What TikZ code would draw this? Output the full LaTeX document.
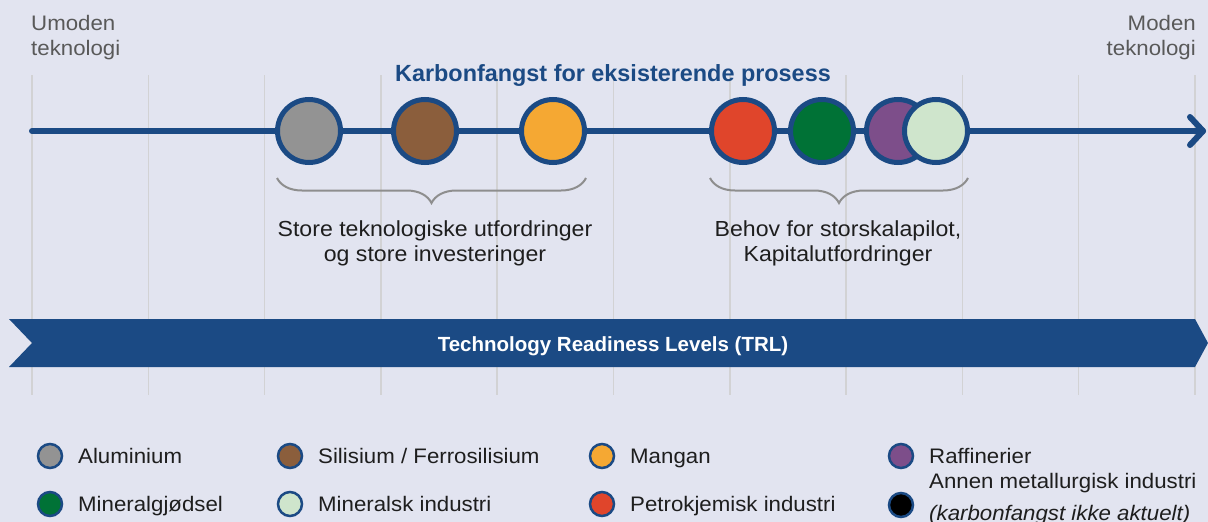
\documentclass[tikz,border=0pt]{standalone}
\usepackage{fontspec}
\setmainfont{Liberation Sans}
\newfontfamily\widefont[FakeStretch=1.06]{Liberation Sans}
\usetikzlibrary{decorations.pathreplacing}
\definecolor{bg}{HTML}{E2E4F0}
\definecolor{navy}{HTML}{1B4A84}
\definecolor{gridc}{HTML}{D2D2D4}
\definecolor{bracec}{HTML}{8E8E8E}
\definecolor{txt}{HTML}{1E1E1E}
\definecolor{greytxt}{HTML}{595959}
\definecolor{cgray}{HTML}{939393}
\definecolor{cbrown}{HTML}{8B5E3C}
\definecolor{corange}{HTML}{F5A833}
\definecolor{cred}{HTML}{E0452B}
\definecolor{cgreen}{HTML}{007236}
\definecolor{cpurple}{HTML}{7D4E8A}
\definecolor{clight}{HTML}{CFE5CC}
\tikzset{
  gridline/.style={draw=gridc, line width=1.5},
  bigdot/.style={circle, draw=navy, line width=5, minimum size=63, inner sep=0},
  ldot/.style={circle, draw=navy, line width=2.5, minimum size=24, inner sep=0},
  ltext/.style={anchor=base west, inner sep=0, text=txt, font=\widefont\fontsize{21}{25}\selectfont},
  lbl/.style={anchor=base, inner sep=0, align=center, text=txt, font=\widefont\fontsize{21.8}{25}\selectfont},
  corner/.style={inner sep=0, text=greytxt, font=\widefont\fontsize{21}{25}\selectfont},
  bracestyle/.style={draw=bracec, line width=2, decorate, decoration={brace, mirror, amplitude=25}},
}
\begin{document}
\begin{tikzpicture}[x=1pt, y=-1pt]
\fill[bg] (0,0) rectangle (1208,522);
\useasboundingbox (0,0) rectangle (1208,522);
% grid
\foreach \i in {0,...,10} {
  \draw[gridline] ({32+116.3*\i},75) -- ({32+116.3*\i},395);
}
% corner labels
\node[corner, anchor=base west, align=left] (umoden) at (31,55) {Umoden\\teknologi};
\node[corner, anchor=base east, align=right] (moden) at (1196,55) {Moden\\teknologi};
% title
\node[anchor=base, inner sep=0, text=navy, font=\bfseries\fontsize{23.4}{27}\selectfont] (title) at (613,81) {Karbonfangst for eksisterende prosess};
% main line
\coordinate (start) at (32,131);
\coordinate (tip) at (1203,131);
\coordinate (armA) at (1190,117);
\coordinate (armB) at (1190,145);
\draw[navy, line width=6, line cap=round] (start) -- (tip);
\draw[navy, line width=6, line cap=round, line join=round] (armA) -- (tip) -- (armB);
% circles
\node[bigdot, fill=cgray] (al) at (309,131) {};
\node[bigdot, fill=cbrown] (si) at (425,131) {};
\node[bigdot, fill=corange] (mn) at (553,131) {};
\node[bigdot, fill=cred] (pk) at (743,131) {};
\node[bigdot, fill=cgreen] (mg) at (822,131) {};
\node[bigdot, fill=cpurple] (rf) at (898,131) {};
\node[bigdot, fill=clight] (mi) at (936,131) {};
% braces
\coordinate (b1a) at (277,178);
\coordinate (b1b) at (586,178);
\coordinate (b2a) at (710,178);
\coordinate (b2b) at (968,178);
\draw[bracestyle] (b1a) -- (b1b);
\draw[bracestyle] (b2a) -- (b2b);
\node[lbl] (lab1) at (435,261) {Store teknologiske utfordringer\\og store investeringer};
\node[lbl] (lab2) at (838,261) {Behov for storskalapilot,\\Kapitalutfordringer};
% TRL banner
\fill[navy] (9,319) -- (1195,319) -- (1208,343) -- (1195,367) -- (9,367) -- (32,343) -- cycle;
\node[anchor=base, inner sep=0, text=white, font=\bfseries\fontsize{20.5}{24}\selectfont] (trl) at (613,351) {Technology Readiness Levels (TRL)};
% legend
\node[ldot, fill=cgray] (k1) at (50,456) {};
\node[ltext] (t1) at (78,463.5) {Aluminium};
\node[ldot, fill=cbrown] (k2) at (290,456) {};
\node[ltext] (t2) at (318,463.5) {Silisium / Ferrosilisium};
\node[ldot, fill=corange] (k3) at (602,456) {};
\node[ltext] (t3) at (630,463.5) {Mangan};
\node[ldot, fill=cpurple] (k4) at (901,456) {};
\node[ltext] (t4) at (929,463.5) {Raffinerier};
\node[ldot, fill=cgreen] (k5) at (50,504) {};
\node[ltext] (t5) at (78,511) {Mineralgjødsel};
\node[ldot, fill=clight] (k6) at (290,504) {};
\node[ltext] (t6) at (318,511) {Mineralsk industri};
\node[ldot, fill=cred] (k7) at (602,504) {};
\node[ltext] (t7) at (630,511) {Petrokjemisk industri};
\node[ldot, fill=black] (k8) at (901,505) {};
\node[ltext] (t8) at (929,488.5) {Annen metallurgisk industri};
\node[ltext] (t9) at (929,520) {\itshape (karbonfangst ikke aktuelt)};
\end{tikzpicture}
\end{document}
